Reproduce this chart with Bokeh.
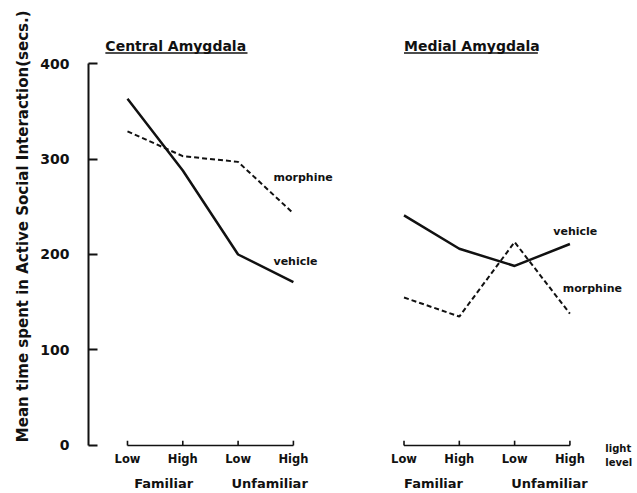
import math
from bokeh.plotting import figure
from bokeh.models import Range1d, FixedTicker, Title
from bokeh.core.properties import value
from bokeh.embed import file_html
from bokeh.resources import INLINE

# ---- data ----
light_levels = ["Low", "High", "Low", "High"]
familiarity = ["Familiar", "Unfamiliar"]
central_x = [0, 1, 2, 3]
medial_x = [5, 6, 7, 8]
central_vehicle = [363, 288, 200, 171]
central_morphine = [329, 303, 297, 243]
medial_vehicle = [241, 206, 188, 211]
medial_morphine = [155, 135, 213, 138]
y_ticks = [0, 100, 200, 300, 400]
panel_titles = ["Central Amygdala", "Medial Amygdala"]
y_label = "Mean time spent in Active Social Interaction(secs.)"

FONT = "DejaVu Sans"
INK = "#111111"

p = figure(width=637, height=493, output_backend="svg", toolbar_location=None,
           x_range=Range1d(-0.705, 9.222), y_range=Range1d(-50.3, 466.0),
           x_axis_location=None, y_axis_location="left",
           min_border_left=88, min_border_right=0, min_border_top=0, min_border_bottom=0)
p.grid.visible = False
p.outline_line_color = None
p.background_fill_color = "white"
p.border_fill_color = "white"

ax = p.yaxis[0]
ax.ticker = FixedTicker(ticks=y_ticks)
ax.bounds = (0, 400)
ax.major_tick_in = 9
ax.major_tick_out = 0
ax.minor_tick_line_color = None
ax.axis_line_width = 2
ax.axis_line_color = INK
ax.major_tick_line_width = 2
ax.major_tick_line_color = INK
ax.major_label_text_font = FONT
ax.major_label_text_font_style = "bold"
ax.major_label_text_font_size = "14px"
ax.major_label_text_color = INK
ax.major_label_standoff = 19

# y-axis title placed as a side title so it can be aligned like the reference
p.add_layout(Title(text=y_label, align="right", offset=10, standoff=12,
                   text_font=FONT, text_font_style="bold", text_font_size="15px",
                   text_color=INK), "left")

# x axes (two segments)
p.segment(x0=[central_x[0], medial_x[0]], y0=[0, 0], x1=[central_x[-1], medial_x[-1]], y1=[0, 0],
          line_color=INK, line_width=1.6)
all_x = central_x + medial_x
p.segment(x0=all_x, y0=[0] * 8, x1=all_x, y1=[5] * 8, line_color=INK, line_width=1.6)
p.text(x=all_x, y=[0] * 8, text=light_levels * 2, y_offset=14,
       text_align="center", text_baseline="middle",
       text_font=value(FONT), text_font_style="bold", text_font_size="11.5px", text_color=INK)
p.text(x=[central_x[0] + 0.12, central_x[2] - 0.12, medial_x[0], medial_x[2] - 0.06], y=[0] * 4,
       text=familiarity * 2, y_offset=38, text_align="left", text_baseline="middle",
       text_font=value(FONT), text_font_style="bold", text_font_size="13px", text_color=INK)
p.text(x=[8.64, 8.64], y=[-3, -18], text=["light", "level"], text_align="left",
       text_baseline="middle", text_font=value(FONT), text_font_style="bold",
       text_font_size="10px", text_color=INK)

# titles
p.text(x=[central_x[0] - 0.4, medial_x[0]], y=[400, 400], text=panel_titles, y_offset=-18,
       text_align="left", text_baseline="middle", text_font=value(FONT),
       text_font_style="bold", text_font_size="14px", text_color=INK)
p.segment(x0=[central_x[0] - 0.4, medial_x[0]], y0=[411, 411],
          x1=[central_x[0] + 2.17, medial_x[0] + 2.42], y1=[411, 411],
          line_color=INK, line_width=1.5)

# data lines
p.line(central_x, central_vehicle, line_color=INK, line_width=2.5)
p.line(central_x, central_morphine, line_color=INK, line_width=2, line_dash="5 3")
p.line(medial_x, medial_vehicle, line_color=INK, line_width=2.5)
p.line(medial_x, medial_morphine, line_color=INK, line_width=2, line_dash="5 3")

# line labels
p.text(x=[2.64, 2.64, 7.70, 7.87], y=[281, 193, 224, 164],
       text=["morphine", "vehicle", "vehicle", "morphine"],
       text_align="left", text_baseline="middle", text_font=value(FONT),
       text_font_style="bold", text_font_size="11px", text_color=INK)

open("out.html", "w").write(file_html(p, INLINE))
